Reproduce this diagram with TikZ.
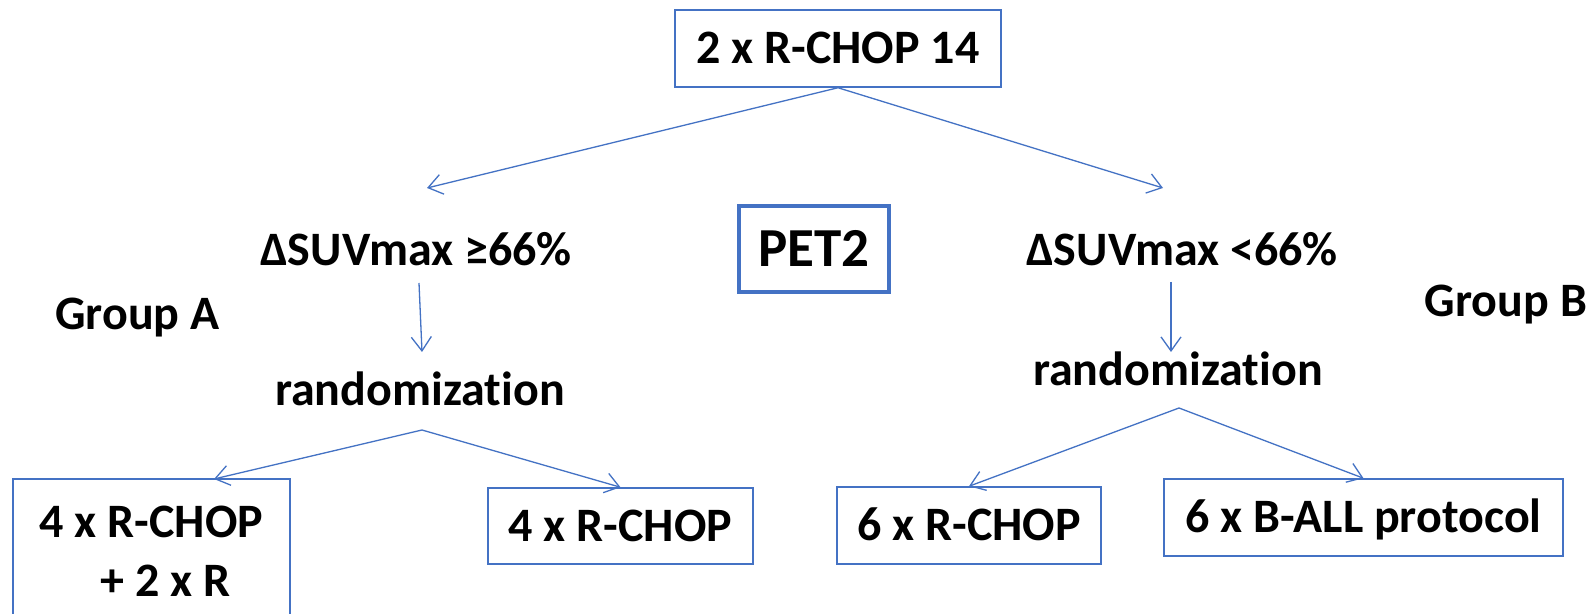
\documentclass[tikz,border=0pt]{standalone}
\usepackage{fontspec}
\setmainfont[Ligatures={NoCommon}]{Carlito}
\usetikzlibrary{arrows.meta}
\definecolor{ln}{HTML}{4472C4}
\begin{document}
\begin{tikzpicture}[x=0.5pt,y=-0.5pt,
  txt/.style={font=\bfseries\fontsize{24}{29.5}\selectfont, inner sep=0pt, anchor=base},
  box/.style={draw=ln, line width=0.75pt, font=\bfseries\fontsize{24}{29.5}\selectfont, inner sep=0pt, text height=15.5pt, text depth=0pt},
  mbox/.style={draw=ln, line width=0.75pt, font=\bfseries\fontsize{24}{29.5}\selectfont, inner sep=0pt, align=center},
  arr/.style={draw=ln, line width=0.65pt, -{Straight Barb[length=7pt,width=10pt,line width=0.65pt]}}]
\clip (0,0) rectangle (1591,614);
\fill[white] (0,0) rectangle (1591,614);

% top box
\node[box, minimum width=163pt, minimum height=38.5pt] (top) at (838,48.5) {2 x R-CHOP 14};

% PET2
\node[draw=ln, line width=2pt, inner sep=0pt, minimum width=75pt, minimum height=43pt,
      font=\bfseries\fontsize{27.5}{30}\selectfont, text height=17.7pt, text depth=0pt] (pet) at (814,249) {PET2};

% criteria
\node[txt] (dA) at (416,266) {ΔSUVmax ≥66\%};
\node[txt] (dB) at (1182,266) {ΔSUVmax <66\%};

% groups
\node[txt] (gA) at (137.5,330) {Group A};
\node[txt] (gB) at (1506,317) {Group B};

% randomization
\node[txt] (rA) at (420,406) {randomization};
\node[txt] (rB) at (1178,386) {randomization};

% bottom boxes
\node[mbox, minimum width=138.5pt, minimum height=72pt] (b1) at (151.5,551) {4 x R-CHOP\\\hspace*{0.6em}+ 2 x R};
\node[box, minimum width=132.5pt, minimum height=38pt] (b2) at (620.5,526) {4 x R-CHOP};
\node[box, minimum width=132pt, minimum height=38.5pt] (b3) at (969,525.5) {6 x R-CHOP};
\node[box, minimum width=199.5pt, minimum height=38.5pt] (b4) at (1363.5,517.5) {6 x B-ALL protocol};

% coordinates
\coordinate (tA) at (427,188);
\coordinate (tB) at (1163,188);
\coordinate (vA1) at (419,283);
\coordinate (vA2) at (422,352);
\coordinate (vB1) at (1171,282);
\coordinate (vB2) at (1171,352);
\coordinate (cA) at (422,430);
\coordinate (cB) at (1179,408);
\coordinate (tb1) at (214,479);

% connectors
\draw[arr] (top.south) -- (tA);
\draw[arr] (top.south) -- (tB);
\draw[arr] (vA1) -- (vA2);
\draw[arr] (vB1) -- (vB2);
\draw[arr] (cA) -- (tb1);
\draw[arr] (cA) -- (b2.north);
\draw[arr] (cB) -- (b3.north);
\draw[arr] (cB) -- (b4.north);
\end{tikzpicture}
\end{document}
